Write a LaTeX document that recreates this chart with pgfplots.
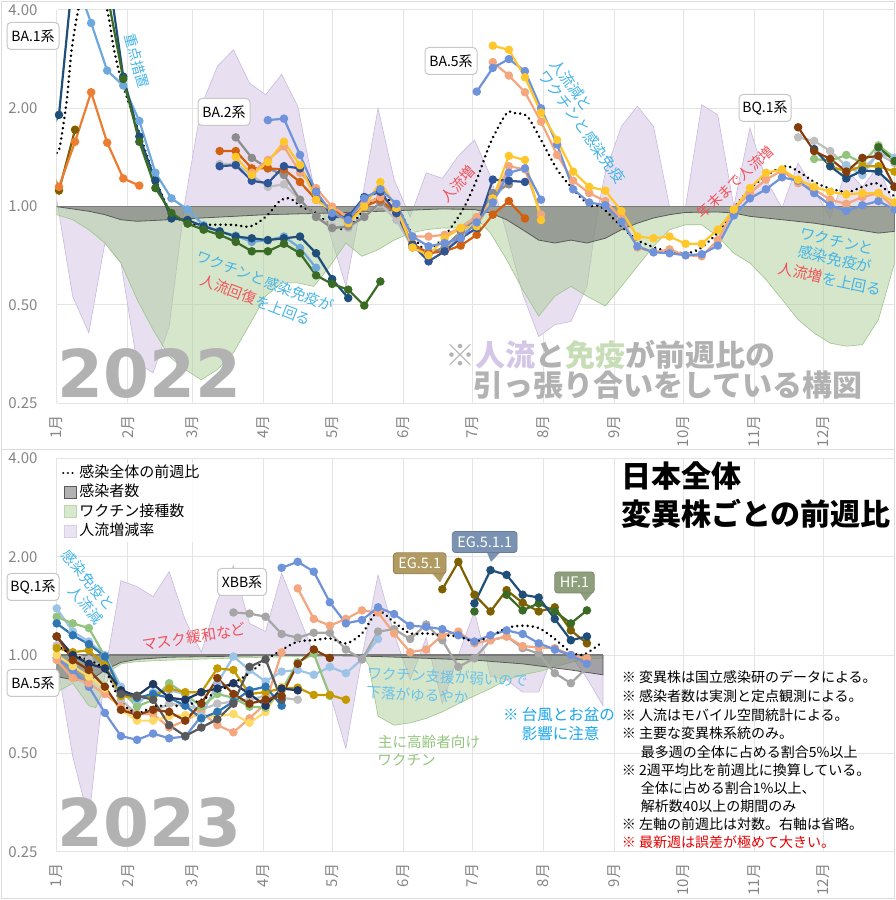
\documentclass[border=0pt]{standalone}
\usepackage{fontspec}
\setmainfont{Noto Sans CJK JP}
\newfontfamily\dvb{DejaVu Sans Bold}
\usepackage{pgfplots}
\pgfplotsset{compat=1.18}
\newcommand\fs[1]{\fontsize{#1}{#1}\selectfont}
\definecolor{cNavy}{HTML}{1F4E79}
\definecolor{cDkGreen}{HTML}{3A6B24}
\definecolor{cOlive}{HTML}{7F6000}
\definecolor{cOrange}{HTML}{ED7D31}
\definecolor{cLtBlue}{HTML}{6FA8DC}
\definecolor{cCorn}{HTML}{6F93DA}
\definecolor{cGray}{HTML}{8C8C8C}
\definecolor{cDkOrange}{HTML}{D2600F}
\definecolor{cLtGray}{HTML}{BFBFBF}
\definecolor{cMdGray}{HTML}{A6A6A6}
\definecolor{cBlue2}{HTML}{2F5597}
\definecolor{cYellow}{HTML}{FFC72C}
\definecolor{cSalmon}{HTML}{F4A77E}
\definecolor{cBrown}{HTML}{843C0C}
\definecolor{cLtGreen}{HTML}{93C47D}
\definecolor{cDkYellow}{HTML}{C49A00}
\definecolor{cSlate}{HTML}{595959}
\definecolor{cLtYellow}{HTML}{FFD966}
\definecolor{cBlue}{HTML}{2E75B6}
\definecolor{cPaleBlue}{HTML}{9DC3E6}
\definecolor{cNavy2}{HTML}{203864}
\definecolor{cPurpleF}{HTML}{E8E0F1}
\definecolor{cPurpleD}{HTML}{C9B9DE}
\definecolor{cGreenF}{HTML}{ABCD97}
\definecolor{cGreenD}{HTML}{9DC58A}
\definecolor{cGrayF}{HTML}{7F7F7F}
\definecolor{cGrayD}{HTML}{5A5A5A}
\definecolor{txtBlue}{HTML}{45B4E6}
\definecolor{txtRed}{HTML}{F0525A}
\definecolor{txtBlue2}{HTML}{1AA6EC}
\definecolor{tickGray}{HTML}{858585}
\definecolor{gridGray}{HTML}{E4E4E4}
\definecolor{bigGray}{HTML}{B2B2B2}
\definecolor{lavT}{HTML}{D3C6E6}
\definecolor{grnT}{HTML}{C7DDB6}
\definecolor{cbEG}{HTML}{B29B62}
\definecolor{cbEGa}{HTML}{7B93B3}
\definecolor{cbHF}{HTML}{8E9F7D}
\tikzset{
 myvl/.style={color=#1, line width=2.2pt, mark=*, mark size=3.1pt, mark options={solid}},
 mydots/.style={black, line width=2.8pt, line cap=round, dash pattern=on 0.01pt off 5.2pt},
 lbox/.style={draw=black!22, line width=1pt, fill=white, rounded corners=4pt, minimum width=52pt, minimum height=27pt, inner sep=0pt, font=\fs{14}},
 cbox/.style={fill=#1, draw=#1!85!black, line width=0.8pt, rounded corners=3pt, minimum height=21pt, inner xsep=5pt, inner ysep=0pt, font=\fs{14.5}, text=white},
}
\begin{document}
\begin{tikzpicture}
\useasboundingbox (0pt,0pt) rectangle (896pt,900pt);
\draw[black!14, line width=1pt] (1.5pt,450pt) rectangle (894.5pt,898.5pt);
\draw[black!14, line width=1pt] (1.5pt,1.5pt) rectangle (894.5pt,450pt);
% ================= 2022 =================
\begin{axis}[at={(56.7pt,496.7pt)}, anchor=south west,
  scale only axis, width=837.8pt, height=393.3pt,
  xmin=0, xmax=365, ymode=log, ymin=0.25, ymax=4,
  xtick={0,31,59,90,120,151,181,212,243,273,304,334},
  xticklabels={1月,2月,3月,4月,5月,6月,7月,8月,9月,10月,11月,12月},
  ytick={0.25,0.5,1,2,4}, yticklabels={0.25,0.50,1.00,2.00,4.00},
  xticklabel style={rotate=90, anchor=east, inner sep=0pt, font=\fs{15}, text=tickGray},
  yticklabel style={anchor=east, inner sep=0pt, font=\fs{15}, text=tickGray},
  xticklabel shift=12pt, yticklabel shift=19pt,
  major tick length=0pt,
  grid=major, major grid style={gridGray, line width=1pt},
  axis line style={draw=none}]
\addplot[fill=cPurpleF, draw=cPurpleD, line width=0.6pt] coordinates {(0,1)(0,1.05)(7,0.53)(14,0.411)(21,0.774)(28,0.672)(35,0.332)(42,0.31)(49,0.43)(56,1.05)(63,2.03)(70,2.69)(77,3.02)(84,2.39)(91,2.2)(98,2.54)(105,2.03)(112,1.15)(119,0.83)(126,0.57)(133,1.05)(140,2.0)(147,1.21)(154,0.93)(161,1.27)(168,1.22)(175,1.43)(182,1.6)(189,1.24)(196,0.83)(203,0.54)(210,0.40)(217,0.435)(224,0.445)(231,0.57)(236,1.0)(239,1.27)(246,1.76)(253,2.03)(260,1.76)(267,1.0)(274,1.0)(281,2.05)(288,1.91)(295,1.0)(302,1.74)(309,1.21)(316,0.99)(323,1.36)(330,1.13)(337,0.92)(344,1.3)(351,1.15)(358,1.33)(365,1.0)(365,1)};
\addplot[fill=cGreenF, fill opacity=0.5, draw=cGreenD, line width=0.6pt] coordinates {(0,1)(0,0.945)(7,0.912)(14,0.85)(21,0.774)(28,0.672)(35,0.52)(42,0.42)(49,0.348)(56,0.317)(63,0.295)(70,0.317)(77,0.357)(84,0.435)(91,0.532)(98,0.584)(105,0.584)(112,0.57)(119,0.657)(126,0.774)(133,0.705)(140,0.738)(147,0.79)(154,0.83)(161,0.85)(168,0.86)(175,0.86)(182,0.934)(189,0.83)(196,0.689)(203,0.557)(210,0.462)(217,0.532)(224,0.57)(231,0.532)(239,0.496)(246,0.57)(253,0.657)(260,0.756)(267,0.85)(274,0.88)(281,0.88)(288,0.81)(295,0.72)(302,0.672)(309,0.598)(316,0.52)(323,0.451)(330,0.41)(337,0.382)(344,0.374)(351,0.378)(358,0.451)(365,0.672)(365,1)};
\addplot[fill=cGrayF, fill opacity=0.65, draw=cGrayD, line width=0.8pt] coordinates {(0,1)(0,1.0)(14,0.968)(21,0.945)(28,0.912)(35,0.902)(49,0.912)(63,0.923)(91,0.945)(120,0.956)(168,0.984)(182,0.98)(189,0.956)(196,0.912)(203,0.85)(210,0.79)(217,0.774)(224,0.79)(231,0.774)(239,0.80)(246,0.85)(253,0.89)(260,0.923)(267,0.945)(274,0.96)(288,0.963)(295,0.956)(302,0.934)(316,0.912)(330,0.89)(344,0.86)(358,0.83)(365,0.84)(365,1)};
\addplot[draw=cGrayD!80, line width=1.2pt] coordinates {(0,1)(365,1)};
\addplot[mydots, smooth, tension=0.5] coordinates {(0,1.46)(1.4,1.53)(4.4,2.12)(6.5,3.02)(9.4,4.0)(12,4.6)(18,4.6)(22,4.0)(25,3.02)(28.5,2.39)(36,1.68)(43,1.21)(50,0.956)(57.6,0.89)(64.8,0.88)(76.4,0.88)(84.4,0.87)(91.3,0.934)(97.2,1.04)(101.5,1.06)(106.6,1.0)(113,0.956)(120,0.87)(127,0.86)(134,0.98)(141,1.075)(148,1.0)(155,0.82)(160,0.74)(164,0.75)(170,0.83)(177,0.98)(183,1.21)(189,1.57)(196,1.93)(200,1.93)(205,1.89)(211,1.6)(218,1.3)(225,1.13)(232,1.01)(237,1.0)(246,0.87)(253,0.79)(263,0.74)(274,0.72)(281,0.75)(289,0.85)(296,1.01)(303,1.15)(311,1.27)(318,1.33)(324,1.27)(331,1.18)(338,1.13)(345,1.11)(351,1.15)(357,1.18)(361,1.13)(365,1.075)};
% BA.1
\addplot[myvl=cOlive] coordinates {(-6,1.6)(1,1.12)(8,1.72)};
\addplot[myvl=cOrange] coordinates {(-6,1.18)(1,1.15)(8,1.58)(15,2.24)(22,1.57)(29,1.22)(36,1.16)};
\addplot[myvl=cLtBlue] coordinates {(8,5.0)(15,3.65)(22,2.61)(29,2.35)(36,1.83)(43,1.27)(50,1.06)(57,0.98)(64,0.877)(71,0.84)(78,0.815)(85,0.78)(92,0.79)(99,0.81)(106,0.747)(113,0.65)};
\addplot[myvl=cNavy] coordinates {(-6,1.55)(1,1.91)(8,6)(15,7)(22,5.5)(29,2.5)(36,1.64)(43,1.2)(50,0.92)(57,0.91)(64,0.87)(71,0.84)(78,0.81)(85,0.80)(92,0.79)(99,0.80)(106,0.81)(113,0.72)(120,0.60)(127,0.525)};
\addplot[myvl=cDkGreen] coordinates {(8,7)(15,6)(22,4.5)(29,2.46)(36,1.58)(43,1.14)(50,0.956)(57,0.887)(64,0.85)(71,0.82)(78,0.78)(85,0.73)(92,0.73)(99,0.77)(106,0.72)(113,0.616)(120,0.58)(127,0.557)(134,0.498)(141,0.59)};
% BA.2
\addplot[myvl=cLtGray] coordinates {(71,1.35)(78,1.35)(85,1.25)(92,1.15)(99,1.17)(106,1.05)(113,0.93)(120,0.87)(127,0.86)(134,0.93)(141,1.02)(148,0.91)(155,0.75)(162,0.73)(169,0.74)(176,0.82)(183,0.9)(190,1.05)(197,1.2)};
\addplot[myvl=cGray] coordinates {(78,1.63)(85,1.41)(92,1.31)(99,1.25)(106,1.05)(113,0.93)(120,0.86)(127,0.87)(134,0.93)(141,1.03)(148,0.956)(155,0.75)(162,0.72)(169,0.75)(176,0.84)(183,0.92)(190,1.1)(197,1.17)};
\addplot[myvl=cDkOrange] coordinates {(71,1.48)(78,1.48)(85,1.31)(92,1.31)(99,1.30)(106,1.19)(113,1.05)(120,0.99)(127,0.90)(134,1.0)(141,1.05)(148,0.956)(155,0.77)(162,0.72)(169,0.73)(176,0.76)(183,0.82)(190,0.945)(197,1.04)(204,0.92)};
\addplot[myvl=cSalmon] coordinates {(85,1.27)(92,1.39)(99,1.53)(106,1.27)(113,1.14)(120,1.0)(127,0.93)(134,1.02)(141,1.07)(148,0.98)(155,0.81)(162,0.81)(169,0.82)(176,0.86)(183,0.93)(190,1.04)(197,1.33)(204,1.30)(211,0.945)};
\addplot[myvl=cBlue2] coordinates {(71,1.33)(78,1.34)(85,1.2)(92,1.18)(99,1.33)(106,1.31)(113,1.11)(120,0.93)(127,0.93)(134,1.07)(141,1.11)(148,0.956)(155,0.765)(162,0.68)(169,0.73)(176,0.80)(183,0.86)(190,1.21)(197,1.20)(204,1.19)};
\addplot[myvl=cYellow] coordinates {(78,1.42)(85,1.25)(92,1.37)(99,1.58)(106,1.34)(113,1.05)(120,0.97)(127,0.89)(134,1.0)(141,1.19)(148,0.99)(155,0.75)(162,0.71)(169,0.80)(176,0.86)(183,0.87)(190,1.06)(197,1.43)(204,1.39)(211,0.91)};
\addplot[myvl=cCorn] coordinates {(92,1.84)(99,1.86)(106,1.44)(113,1.11)(120,0.956)(127,0.91)(134,1.06)(141,1.13)(148,1.02)(155,0.81)(162,0.756)(169,0.774)(176,0.8)(183,0.895)(190,1.03)(197,1.27)(204,1.31)(211,1.05)};
% BA.5
\addplot[myvl=cSalmon] coordinates {(190,2.77)(197,2.52)(204,2.24)(211,1.82)(218,1.44)(225,1.2)(232,1.1)(239,1.04)(246,0.92)(253,0.75)(260,0.725)(267,0.74)(274,0.71)(281,0.705)(288,0.79)(295,0.98)(302,1.1)(309,1.21)(316,1.29)(323,1.18)(330,1.13)(337,1.05)(344,1.02)(351,1.07)(358,1.1)(365,0.99)};
\addplot[myvl=cCorn] coordinates {(183,2.25)(190,2.66)(197,2.83)(204,2.6)(211,2.0)(218,1.55)(225,1.13)(232,1.03)(239,1.01)(246,0.9)(253,0.756)(260,0.725)(267,0.72)(274,0.71)(281,0.715)(288,0.76)(295,0.94)(302,1.06)(309,1.13)(316,1.23)(323,1.2)(330,1.1)(337,1.01)(344,0.97)(351,1.01)(358,1.04)(365,0.98)};
\addplot[myvl=cYellow] coordinates {(190,3.11)(197,3.02)(204,2.49)(211,1.94)(218,1.6)(225,1.28)(232,1.15)(239,1.12)(246,0.97)(253,0.81)(260,0.8)(267,0.81)(274,0.77)(281,0.77)(288,0.85)(295,0.98)(302,1.14)(309,1.27)(316,1.30)(323,1.21)(330,1.15)(337,1.11)(344,1.09)(351,1.10)(358,1.1)(365,1.03)};
% BQ.1
\addplot[myvl=cLtGray] coordinates {(323,1.63)(330,1.59)(337,1.48)(344,1.33)(351,1.30)(358,1.45)(365,1.36)};
\addplot[myvl=cLtGreen] coordinates {(330,1.4)(337,1.38)(344,1.44)(351,1.36)(358,1.54)(365,1.41)};
\addplot[myvl=cPaleBlue] coordinates {(344,1.34)(351,1.25)(358,1.46)(365,1.41)};
\addplot[myvl=cDkYellow] coordinates {(337,1.33)(344,1.28)(351,1.33)(358,1.33)(365,1.28)};
\addplot[myvl=cDkGreen] coordinates {(358,1.52)(365,1.38)};
\addplot[myvl=cNavy] coordinates {(330,1.5)(337,1.33)(344,1.22)(351,1.29)(358,1.28)(365,1.15)};
\addplot[myvl=cBrown] coordinates {(323,1.75)(330,1.48)(337,1.40)(344,1.28)(351,1.41)(358,1.43)(365,1.15)};
\end{axis}
% ================= 2023 =================
\begin{axis}[at={(56.7pt,48.3pt)}, anchor=south west,
  scale only axis, width=837.8pt, height=393.3pt,
  xmin=0, xmax=365, ymode=log, ymin=0.25, ymax=4,
  xtick={0,31,59,90,120,151,181,212,243,273,304,334},
  xticklabels={1月,2月,3月,4月,5月,6月,7月,8月,9月,10月,11月,12月},
  ytick={0.25,0.5,1,2,4}, yticklabels={0.25,0.50,1.00,2.00,4.00},
  xticklabel style={rotate=90, anchor=east, inner sep=0pt, font=\fs{15}, text=tickGray},
  yticklabel style={anchor=east, inner sep=0pt, font=\fs{15}, text=tickGray},
  xticklabel shift=12pt, yticklabel shift=19pt,
  major tick length=0pt,
  grid=major, major grid style={gridGray, line width=1pt},
  axis line style={draw=none},
  legend style={at={(0.005,0.99)}, anchor=north west, draw=none, fill=white, fill opacity=0.85, text opacity=1, font=\fs{15}, inner sep=1pt, row sep=1pt, nodes={text height=11.5pt, text depth=3pt}},
  legend cell align=left]
\addlegendimage{legend image code/.code={\draw[black, line width=2.4pt, line cap=round, dash pattern=on 0.01pt off 4.6pt] (1pt,0pt) -- (14pt,0pt);}}
\addlegendimage{legend image code/.code={\draw[fill=cGrayF!70, draw=cGrayD, line width=0.8pt] (2pt,-6pt) rectangle (14pt,6pt);}}
\addlegendimage{legend image code/.code={\draw[fill=cGreenF!55, draw=cGreenD!70, line width=0.6pt] (2pt,-6pt) rectangle (14pt,6pt);}}
\addlegendimage{legend image code/.code={\draw[fill=cPurpleF, draw=cPurpleD!70, line width=0.6pt] (2pt,-6pt) rectangle (14pt,6pt);}}
\legend{感染全体の前週比,感染者数,ワクチン接種数,人流増減率}
\addplot[fill=cPurpleF, draw=cPurpleD, line width=0.6pt] coordinates {(0,1)(0,0.965)(7,0.489)(14,0.313)(21,0.88)(28,1.69)(35,1.62)(42,1.51)(49,1.8)(56,1.28)(63,1.02)(70,1.47)(77,1.88)(84,1.25)(91,1.18)(98,1.78)(105,1.34)(112,1.01)(119,0.763)(126,0.518)(133,0.99)(140,1.76)(147,1.16)(154,0.84)(161,1.13)(168,0.71)(175,1.0)(182,1.36)(189,0.86)(196,0.84)(203,0.77)(210,0.77)(217,1.04)(224,1.0)(231,0.85)(238,0.70)(238,1)};
\addplot[fill=cGreenF, fill opacity=0.5, draw=cGreenD, line width=0.6pt] coordinates {(0,1)(0,0.77)(7,0.82)(14,0.70)(17,0.69)(21,0.8)(24,0.9)(28,0.94)(35,0.955)(49,0.965)(70,0.975)(91,0.985)(112,0.99)(133,1.0)(136,0.93)(140,0.65)(147,0.61)(154,0.62)(161,0.64)(168,0.67)(175,0.71)(182,0.75)(189,0.79)(196,0.84)(203,0.87)(210,0.89)(217,0.92)(224,0.95)(231,0.97)(238,0.98)(238,1)};
\addplot[fill=cGrayF, fill opacity=0.65, draw=cGrayD, line width=0.8pt] coordinates {(0,1)(0,0.86)(7,0.84)(14,0.83)(21,0.9)(28,0.95)(35,0.97)(49,0.985)(70,0.99)(105,1.0)(140,0.99)(182,0.965)(203,0.94)(224,0.9)(238,0.87)(238,1)};
\addplot[draw=cGrayD!80, line width=1.2pt] coordinates {(0,1)(238,1)};
% early group
\addplot[myvl=cLtGray] coordinates {(0,1.07)(7,1.01)(14,0.97)(21,0.91)(28,0.73)(35,0.66)(42,0.67)(49,0.71)(56,0.70)(63,0.68)(70,0.71)(77,0.72)(84,0.73)(91,0.75)(98,0.74)(105,0.73)};
\addplot[myvl=cCorn] coordinates {(0,0.98)(7,0.9)(14,0.8)(21,0.665)(28,0.565)(35,0.55)(42,0.575)(49,0.556)(56,0.563)(63,0.65)};
\addplot[myvl=cSalmon] coordinates {(0,0.965)(7,0.85)(14,0.82)(21,0.76)(28,0.695)(35,0.66)(42,0.66)(49,0.60)(56,0.63)(63,0.67)(70,0.61)(77,0.58)(84,0.64)(91,0.71)(98,1.02)};
\addplot[myvl=cLtYellow] coordinates {(0,1.0)(7,0.925)(14,0.86)(21,0.79)(28,0.68)(35,0.63)(42,0.63)(49,0.65)(56,0.655)(63,0.65)(70,0.65)(77,0.66)(84,0.62)(91,0.67)(98,0.8)};
\addplot[myvl=cPaleBlue] coordinates {(0,1.39)(7,1.18)(14,1.1)(21,1.0)(28,0.8)(35,0.71)(42,0.77)(49,0.78)(56,0.76)(63,0.65)(70,0.82)(77,0.99)(84,0.9)(91,0.83)(98,0.89)(105,0.9)(112,0.87)(119,0.92)(126,0.88)(133,0.97)(140,1.12)};
\addplot[myvl=cLtGreen] coordinates {(0,1.31)(7,1.25)(14,1.21)(21,0.99)(28,0.78)(35,0.695)(42,0.73)(49,0.82)(56,0.76)(63,0.695)(70,0.76)(77,0.74)(84,0.695)(91,0.69)(98,0.78)(105,0.95)(112,1.01)(119,0.75)};
\addplot[myvl=cDkYellow] coordinates {(0,1.05)(7,1.02)(14,1.035)(21,0.93)(28,0.75)(35,0.74)(42,0.75)(49,0.79)(56,0.77)(63,0.77)(70,0.91)(77,0.90)(84,0.76)(91,0.77)(98,0.79)(105,0.795)(112,0.755)(119,0.755)(126,0.73)};
\addplot[myvl=cBlue] coordinates {(0,1.25)(7,1.15)(14,1.08)(21,0.99)(28,0.77)(35,0.74)(42,0.76)(49,0.74)(56,0.7)(63,0.64)(70,0.67)(77,0.72)(84,0.78)(91,0.80)(98,0.70)};
\addplot[myvl=cNavy2] coordinates {(0,1.14)(7,1.0)(14,0.94)(21,0.91)(28,0.78)(35,0.75)(42,0.815)(49,0.74)(56,0.73)(63,0.77)(70,0.79)(77,0.82)(84,0.76)(91,0.70)(98,0.79)(105,0.78)};
\addplot[myvl=cSlate] coordinates {(28,0.76)(35,0.75)(42,0.73)(49,0.61)(56,0.565)(63,0.60)(70,0.636)(77,0.71)(84,0.92)(91,0.97)(98,0.73)};
\addplot[myvl=cBrown] coordinates {(0,1.14)(7,0.965)(14,0.90)(21,0.80)(28,0.68)(35,0.655)(42,0.68)(49,0.67)(56,0.63)(63,0.71)(70,0.85)(77,0.76)(84,0.71)(91,0.73)(98,0.75)(105,0.94)(112,1.04)(119,0.98)};
% XBB
\addplot[myvl=cMdGray] coordinates {(77,1.35)(84,1.34)(91,1.31)(98,1.16)(105,1.13)(112,1.17)(119,1.17)(126,1.04)(133,0.97)(140,1.18)(147,1.2)(154,1.12)(161,1.24)(168,1.11)(175,0.92)(182,0.977)(189,1.11)(196,1.14)(203,1.05)(210,1.01)(217,0.88)(224,0.82)(231,0.915)};
\addplot[myvl=cSalmon] coordinates {(105,1.6)(112,1.29)(119,1.23)(126,1.29)(133,1.37)(140,1.35)(147,1.165)(154,1.02)(161,1.04)(168,1.15)(175,1.18)(182,1.086)(189,1.11)(196,1.14)(203,1.065)(210,1.055)(217,1.05)(224,1.0)(231,0.977)};
\addplot[myvl=cCorn] coordinates {(98,1.85)(105,1.93)(112,1.8)(119,1.45)(126,1.25)(133,1.28)(140,1.40)(147,1.335)(154,1.23)(161,1.22)(168,1.2)(175,1.15)(182,1.1)(189,1.15)(196,1.19)(203,1.16)(210,1.086)(217,1.04)(224,1.0)(231,0.94)};
% EG.5.1 / EG.5.1.1 / HF.1
\addplot[myvl=cOlive] coordinates {(168,1.59)(175,1.93)(182,1.53)(189,1.36)(196,1.58)(203,1.445)(210,1.36)(217,1.40)(224,1.19)(231,1.086)};
\addplot[myvl=cDkGreen, only marks] coordinates {(182,1.36)};
\addplot[myvl=cDkGreen] coordinates {(196,1.53)(203,1.37)(210,1.44)(217,1.36)(224,1.25)(231,1.37)};
\addplot[myvl=cNavy] coordinates {(182,1.44)(189,1.82)(196,1.76)(203,1.53)(210,1.50)(217,1.29)(224,1.11)(231,1.14)};
\addplot[mydots, smooth, tension=0.5] coordinates {(0,1.07)(7,1.0)(14,0.965)(21,0.9)(28,0.72)(35,0.665)(42,0.695)(49,0.70)(56,0.70)(63,0.73)(70,0.77)(77,0.82)(84,0.88)(91,0.965)(98,1.036)(105,1.1)(112,1.11)(119,1.125)(126,1.085)(133,1.165)(140,1.36)(147,1.26)(154,1.165)(161,1.165)(168,1.15)(175,1.14)(182,1.10)(189,1.14)(196,1.21)(203,1.23)(210,1.21)(217,1.12)(224,1.02)(229,1.0)(233,1.036)(238,1.1)};
\end{axis}
% ================= annotations =================
\begin{scope}[x=1pt,y=1pt]
\node[anchor=base west, inner sep=0pt, font=\dvb\fs{66}, text=bigGray] at (57,502) {2022};
\node[anchor=west, inner sep=0pt, font=\fs{30}\bfseries, text=bigGray] at (445,545) {※\textcolor{lavT}{人流}と\textcolor{grnT}{免疫}が前週比の};
\node[anchor=west, inner sep=0pt, font=\fs{30}\bfseries, text=bigGray] at (473,514.5) {引っ張り合いをしている構図};
\node[lbox] at (33,864) {BA.1系};
\node[lbox] at (224,788) {BA.2系};
\node[lbox] at (451,839) {BA.5系};
\node[lbox] at (765,792) {BQ.1系};
\node[rotate=-75, text=txtBlue, font=\fs{14}, inner sep=0pt] at (137,839) {重点措置};
\node[rotate=-21, text=txtBlue, font=\fs{14.5}, inner sep=0pt] at (265,619) {ワクチンと感染免疫が};
\node[rotate=-21, font=\fs{14.5}, inner sep=0pt] at (256,600) {\textcolor{txtRed}{人流回復}\textcolor{txtBlue}{を上回る}};
\node[rotate=48, text=txtRed, font=\fs{14.5}, inner sep=0pt] at (458,716) {人流増};
\node[rotate=-54, text=txtBlue, font=\fs{15}, inner sep=0pt] at (571.7,815) {人流減と};
\node[rotate=-54, text=txtBlue, font=\fs{15}, inner sep=0pt] at (582.3,773.3) {ワクチンと感染免疫};
\node[rotate=43, text=txtRed, font=\fs{14}, inner sep=0pt] at (735,718) {年末まで人流増};
\node[rotate=-12, text=txtBlue, font=\fs{15}, inner sep=0pt] at (837,659) {ワクチンと};
\node[rotate=-12, text=txtBlue, font=\fs{15}, inner sep=0pt] at (835,641) {感染免疫が};
\node[rotate=-12, font=\fs{15}, inner sep=0pt] at (830,621) {\textcolor{txtRed}{人流増}\textcolor{txtBlue}{を上回る}};
\node[anchor=base west, inner sep=0pt, font=\dvb\fs{66}, text=bigGray] at (57,53) {2023};
\node[anchor=west, inner sep=0pt, font=\fs{30}\bfseries] at (621,424) {日本全体};
\node[anchor=west, inner sep=0pt, font=\fs{30}\bfseries] at (621,386) {変異株ごとの前週比};
\node[lbox] at (33,313) {BQ.1系};
\node[lbox, minimum width=49pt] at (242,318) {XBB系};
\node[lbox] at (33,217) {BA.5系};
\fill[cbEG] (432,327) -- (445,327) -- (440,317.5) -- cycle;
\node[cbox=cbEG] at (419.7,336.7) {EG.5.1};
\fill[cbEGa] (487,347.5) -- (500,347.5) -- (491,338) -- cycle;
\node[cbox=cbEGa] at (484.7,358) {EG.5.1.1};
\fill[cbHF] (580,307.5) -- (593,307.5) -- (585.5,299) -- cycle;
\node[cbox=cbHF] at (574.5,317.5) {HF.1};
\node[rotate=-50, text=txtBlue, font=\fs{14.5}, inner sep=0pt] at (88.5,320) {感染免疫と};
\node[rotate=-50, text=txtBlue, font=\fs{14.5}, inner sep=0pt] at (86,295) {人流減};
\node[rotate=9, text=txtRed, font=\fs{15}, inner sep=0pt] at (194,263) {マスク緩和など};
\node[rotate=-3, text=txtBlue!80, font=\fs{14.6}, inner sep=0pt] at (447.5,223) {ワクチン支援が弱いので};
\node[rotate=-3, text=txtBlue!80, font=\fs{14.6}, inner sep=0pt] at (417.5,205) {下落がゆるやか};
\node[text=cLtGreen, font=\fs{14.6}, inner sep=0pt] at (429,158.3) {主に高齢者向け};
\node[text=cLtGreen, font=\fs{14.6}, inner sep=0pt] at (406.5,140) {ワクチン};
\node[text=txtBlue2, font=\fs{15.5}, inner sep=0pt] at (559,185) {※ 台風とお盆の};
\node[text=txtBlue2, font=\fs{15.5}, inner sep=0pt] at (560.5,166.7) {影響に注意};
\node[anchor=west, inner sep=0pt, font=\fs{14}] at (621.7,223.3) {※ 変異株は国立感染研のデータによる。};
\node[anchor=west, inner sep=0pt, font=\fs{14}] at (621.7,204) {※ 感染者数は実測と定点観測による。};
\node[anchor=west, inner sep=0pt, font=\fs{14}] at (621.7,185) {※ 人流はモバイル空間統計による。};
\node[anchor=west, inner sep=0pt, font=\fs{14}] at (621.7,166.7) {※ 主要な変異株系統のみ。};
\node[anchor=west, inner sep=0pt, font=\fs{14}] at (640.7,148.3) {最多週の全体に占める割合5\%以上};
\node[anchor=west, inner sep=0pt, font=\fs{14}] at (621.7,130) {※ 2週平均比を前週比に換算している。};
\node[anchor=west, inner sep=0pt, font=\fs{14}] at (640.7,112.3) {全体に占める割合1\%以上、};
\node[anchor=west, inner sep=0pt, font=\fs{14}] at (640.7,94) {解析数40以上の期間のみ};
\node[anchor=west, inner sep=0pt, font=\fs{14}] at (621.7,75.7) {※ 左軸の前週比は対数。右軸は省略。};
\node[anchor=west, inner sep=0pt, font=\fs{14}, text=red!90!black] at (621.7,57.7) {※ 最新週は誤差が極めて大きい。};
\end{scope}
\end{tikzpicture}
\end{document}
